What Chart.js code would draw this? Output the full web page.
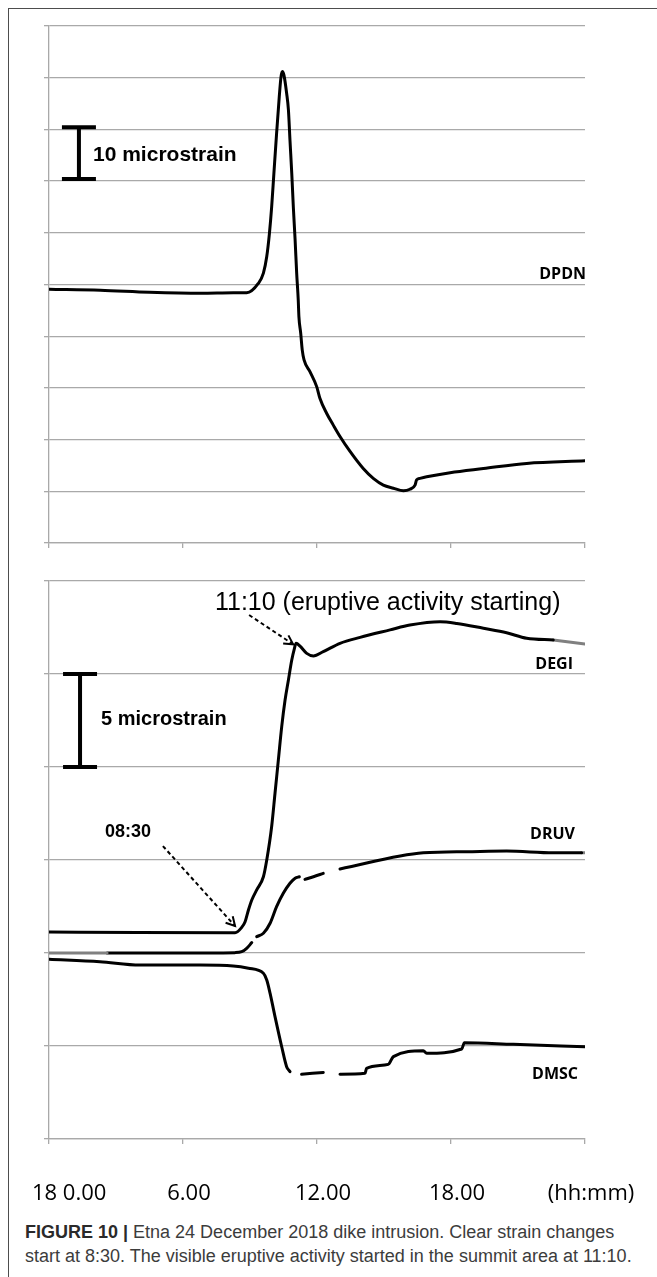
<!DOCTYPE html>
<html>
<head>
<meta charset="utf-8">
<title>Etna 24 December 2018 dike intrusion – strain</title>
<script src="https://cdn.jsdelivr.net/npm/chart.js@4.4.1/dist/chart.umd.min.js"></script>
<style>
  html, body { margin: 0; padding: 0; background: #fff; }
  #fig { position: relative; width: 657px; height: 1277px; overflow: hidden; background: #fff; }
  #frame { position: absolute; left: 8px; top: 8px; width: 720px; height: 1300px;
           border-top: 1.5px solid #4d4d4d; border-left: 1.5px solid #4d4d4d; box-sizing: border-box; }
  #topChart { position: absolute; left: 0; top: 0; }
  #botChart { position: absolute; left: 0; top: 560px; }
  #caption { position: absolute; left: 25px; top: 1221px; font-family: "Liberation Sans", Arial, sans-serif;
             font-size: 18px; line-height: 23.5px; color: #3c3c3c; white-space: nowrap; }
  #caption b { color: #2a2a2a; }
</style>
</head>
<body>
<div id="fig">
  <div id="frame"></div>
  <canvas id="topChart" width="657" height="560"></canvas>
  <canvas id="botChart" width="657" height="660"></canvas>
  <div id="caption"><b>FIGURE 10 |</b> Etna 24 December 2018 dike intrusion. Clear strain changes<br>start at 8:30. The visible eruptive activity started in the summit area at 11:10.</div>
</div>
<script>
// ---- time axis (hours of 24 December 2018) ----
const tickHours  = [0, 6, 12, 18, 24];
const tickLabels = ['18 0.00', '6.00', '12.00', '18.00', '(hh:mm)'];

// ---- DPDN (microstrain, upper panel) ----
const dpdnHours  = [0, 2.3, 4.5, 6.8, 8.25, 8.85, 9.37, 9.6, 9.75, 9.87, 9.97, 10.07, 10.19, 10.31, 10.39, 10.45,
                    10.52, 10.64, 10.72, 10.79, 10.87, 10.94, 11.02, 11.09, 11.16, 11.19, 11.27, 11.34, 11.42, 11.69,
                    11.99, 12.13, 12.43, 12.73, 13.03, 13.48, 14.07, 14.52, 14.97, 15.42, 15.87, 16.16, 16.39, 16.46,
                    16.61, 16.91, 17.96, 19.45, 21.39, 24];
const dpdnStrain = [-0.9, -1.1, -1.5, -1.7, -1.6, -1.6, 0.2, 2.2, 5.4, 9.9, 15.0, 21.5, 29.2, 36.3, 40.2, 41.2,
                    40.5, 37.0, 33.8, 27.9, 21.5, 15.0, 8.6, 2.2, -3.0, -6.2, -9.4, -12.7, -14.6, -16.9,
                    -19.8, -22.0, -24.9, -27.2, -29.4, -32.3, -35.6, -37.5, -38.8, -39.4, -39.9, -39.6, -38.8, -37.8,
                    -37.5, -37.2, -36.4, -35.6, -34.6, -34.1];

// ---- DEGI (microstrain, lower panel) ----
const degiHours  = [0, 4.0, 8.33, 8.63, 8.78, 8.93, 9.08, 9.30, 9.60, 9.75, 9.97, 10.12, 10.27, 10.42, 10.57, 10.72,
                    10.87, 10.99, 11.06, 11.24, 11.54, 11.84, 12.28, 13.03, 13.93, 15.27, 16.16, 17.51, 18.26, 19.45,
                    20.49, 21.39, 22.58];
const degiStrain = [1.13, 1.1, 1.09, 1.38, 1.68, 2.31, 2.85, 3.39, 4.10, 5.0, 6.8, 8.59, 10.38, 12.17, 13.6, 14.68,
                    15.75, 16.38, 16.65, 16.5, 16.11, 15.97, 16.2, 16.65, 16.97, 17.37, 17.63, 17.81, 17.72, 17.46,
                    17.22, 16.92, 16.83];
const degiEndHours  = [22.58, 24];
const degiEndStrain = [16.83, 16.61];

// ---- DRUV (null = missing data) ----
const druvStartHours  = [0, 2.6];
const druvStartStrain = [0, 0];
const druvHours  = [2.6, 5.5, 8.33, 8.63, 8.85, 9.08, 9.12, 9.30, 9.60, 9.90, 10.19, 10.49, 10.79, 11.02, 11.21, 11.3,
                    11.46, 11.84, 12.28, 12.6, 13.03, 16.76, 18.70, 20.49, 22.58, 23.85];
const druvStrain = [0, 0, 0.02, 0.07, 0.25, 0.56, null, 0.88, 1.06, 1.6, 2.49, 3.21, 3.75, 4.02, 4.1, null,
                    3.96, 4.1, 4.28, null, 4.52, 5.39, 5.45, 5.48, 5.39, 5.39];
const druvEndHours  = [23.85, 24];
const druvEndStrain = [5.39, 5.39];

// ---- DMSC ----
const dmscHours  = [0, 2.28, 4.07, 6.76, 8.25, 8.93, 9.6, 9.75, 9.9, 10.12, 10.42, 10.64, 10.79, 11.0,
                    11.31, 12.28, 12.6, 13.03, 14.15, 14.22, 15.19, 15.42, 16.76, 16.91, 18.48, 18.6, 20.79, 24];
const dmscStrain = [-0.34, -0.47, -0.65, -0.65, -0.70, -0.82, -1.09, -1.45, -2.17, -3.42, -5.04, -6.11, -6.38, null,
                    -6.52, -6.42, null, -6.52, -6.47, -6.2, -5.99, -5.57, -5.25, -5.39, -5.16, -4.82, -4.91, -5.04];

const pts = (hs, vs) => hs.map((h, i) => ({ x: h, y: vs[i] }));

const GRID = '#a9a9a9';
const trace = (hs, vs, color) => ({
  data: pts(hs, vs), borderColor: color, borderWidth: 3, pointRadius: 0,
  cubicInterpolationMode: 'monotone', spanGaps: false, borderCapStyle: 'round', borderJoinStyle: 'round'
});

function axes(yMin, yMax, yStep, xHeight) {
  return {
    x: {
      type: 'linear', min: 0, max: 24,
      afterBuildTicks: s => { s.ticks = tickHours.map(v => ({ value: v })); },
      ticks: { display: false },
      grid: { drawOnChartArea: false, drawTicks: true, tickLength: 5, color: GRID, lineWidth: 1.3 },
      border: { color: GRID, width: 1.3 },
      afterFit: s => { s.height = xHeight; }
    },
    y: {
      min: yMin, max: yMax,
      ticks: { display: false, stepSize: yStep },
      grid: { drawTicks: true, tickLength: 5, color: GRID, lineWidth: 1.3 },
      border: { color: GRID, width: 1.3 },
      afterFit: s => { s.width = 49; }
    }
  };
}

function drawArrow(ctx, x1, y1, x2, y2) {
  ctx.save();
  ctx.strokeStyle = '#000';
  ctx.lineWidth = 2;
  ctx.setLineDash([4, 3]);
  ctx.beginPath(); ctx.moveTo(x1, y1); ctx.lineTo(x2, y2); ctx.stroke();
  ctx.setLineDash([]);
  const a = Math.atan2(y2 - y1, x2 - x1), L = 10, w = 0.5;
  ctx.beginPath();
  ctx.moveTo(x2 - L * Math.cos(a - w), y2 - L * Math.sin(a - w));
  ctx.lineTo(x2, y2);
  ctx.lineTo(x2 - L * Math.cos(a + w), y2 - L * Math.sin(a + w));
  ctx.stroke();
  ctx.restore();
}

function drawScaleBar(ctx, xs, ys, hour, lo, hi) {
  const x = xs.getPixelForValue(hour), y1 = ys.getPixelForValue(hi), y2 = ys.getPixelForValue(lo);
  ctx.save();
  ctx.strokeStyle = '#000'; ctx.lineWidth = 4; ctx.lineCap = 'butt';
  ctx.beginPath();
  ctx.moveTo(x, y1); ctx.lineTo(x, y2);
  ctx.moveTo(x - 17, y1); ctx.lineTo(x + 17, y1);
  ctx.moveTo(x - 17, y2); ctx.lineTo(x + 17, y2);
  ctx.stroke();
  ctx.restore();
}

function text(ctx, str, x, y, font, align, baseline) {
  ctx.save();
  ctx.font = font; ctx.fillStyle = '#000';
  ctx.textAlign = align; ctx.textBaseline = baseline;
  ctx.fillText(str, x, y);
  ctx.restore();
}

// ---- upper panel: DPDN ----
const topNotes = {
  id: 'topNotes',
  afterDraw(chart) {
    const { ctx, scales: { x, y }, chartArea } = chart;
    drawScaleBar(ctx, x, y, 1.34, 20.4, 30.4);
    text(ctx, '10 microstrain', x.getPixelForValue(1.97), y.getPixelForValue(25.0),
         'bold 21px "Liberation Sans", Arial, sans-serif', 'left', 'middle');
    text(ctx, 'DPDN', chartArea.right + 1, y.getPixelForValue(1.1),
         'bold 16px "Open Sans", sans-serif', 'right', 'alphabetic');
  }
};

new Chart(document.getElementById('topChart'), {
  type: 'line',
  data: { datasets: [trace(dpdnHours, dpdnStrain, '#000')] },
  options: {
    responsive: false, animation: false, devicePixelRatio: 1, events: [],
    layout: { padding: { top: 26, right: 72, left: 0, bottom: 0 } },
    plugins: { legend: { display: false }, tooltip: { enabled: false } },
    scales: axes(-50, 50, 10, 17)
  },
  plugins: [topNotes]
});

// ---- lower panel: DEGI, DRUV, DMSC ----
const botNotes = {
  id: 'botNotes',
  afterDraw(chart) {
    const { ctx, scales: { x, y }, chartArea } = chart;
    drawScaleBar(ctx, x, y, 1.39, 10, 15);
    text(ctx, '5 microstrain', x.getPixelForValue(2.33), y.getPixelForValue(12.53),
         'bold 20px "Liberation Sans", Arial, sans-serif', 'left', 'middle');
    text(ctx, '11:10 (eruptive activity starting)', x.getPixelForValue(7.43), y.getPixelForValue(18.44),
         '25px "Liberation Sans", Arial, sans-serif', 'left', 'alphabetic');
    text(ctx, '08:30', x.getPixelForValue(2.51), y.getPixelForValue(6.24),
         'bold 18px "Liberation Sans", Arial, sans-serif', 'left', 'alphabetic');
    drawArrow(ctx, x.getPixelForValue(8.96), y.getPixelForValue(18.17), x.getPixelForValue(10.93), y.getPixelForValue(16.6));
    drawArrow(ctx, x.getPixelForValue(5.1), y.getPixelForValue(5.75), x.getPixelForValue(8.33), y.getPixelForValue(1.45));
    const lab = 'bold 16px "Open Sans", sans-serif';
    text(ctx, 'DEGI', chartArea.right - 12, y.getPixelForValue(15.27), lab, 'right', 'alphabetic');
    text(ctx, 'DRUV', chartArea.right - 10, y.getPixelForValue(6.13), lab, 'right', 'alphabetic');
    text(ctx, 'DMSC', chartArea.right - 7, y.getPixelForValue(-6.77), lab, 'right', 'alphabetic');
    // time-axis labels
    tickHours.forEach((h, i) => {
      const px = x.getPixelForValue(h);
      text(ctx, tickLabels[i], i === 0 ? px - 17 : px + 6, x.top + 55,
           '22px "Open Sans", sans-serif', i === 0 ? 'left' : 'center', 'middle');
    });
  }
};

new Chart(document.getElementById('botChart'), {
  type: 'line',
  data: {
    datasets: [
      trace(druvStartHours, druvStartStrain, '#808080'),
      trace(druvHours, druvStrain, '#000'),
      trace(druvEndHours, druvEndStrain, '#808080'),
      trace(dmscHours, dmscStrain, '#000'),
      trace(degiHours, degiStrain, '#000'),
      trace(degiEndHours, degiEndStrain, '#808080')
    ]
  },
  options: {
    responsive: false, animation: false, devicePixelRatio: 1, events: [],
    layout: { padding: { top: 21, right: 72, left: 0, bottom: 0 } },
    plugins: { legend: { display: false }, tooltip: { enabled: false } },
    scales: axes(-10, 20, 5, 81)
  },
  plugins: [botNotes]
});
</script>
</body>
</html>
